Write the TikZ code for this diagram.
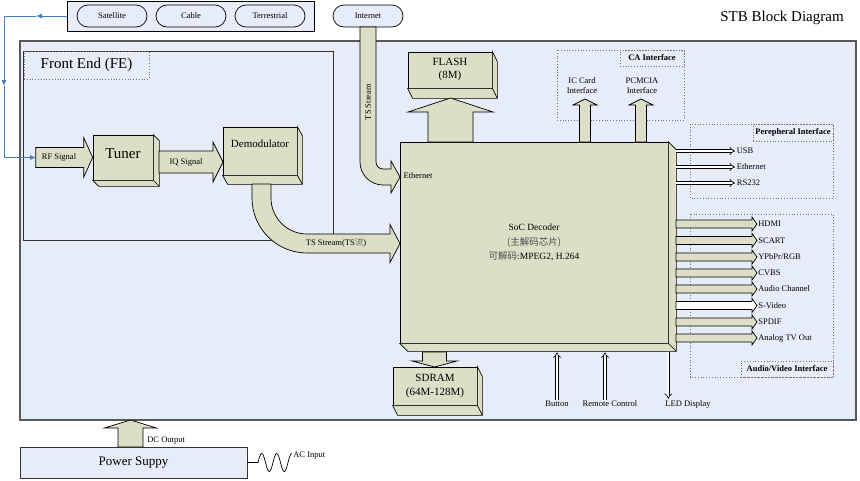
\documentclass[tikz,border=0pt]{standalone}
\usepackage{fontspec}
\setmainfont{Liberation Serif}
\newfontfamily\cjk{Noto Sans CJK SC}
\usepackage{tikz}
\usetikzlibrary{arrows.meta}

\definecolor{panel}{HTML}{E6ECF8}
\definecolor{olivebox}{HTML}{DCDFC6}
\definecolor{linkblue}{HTML}{4A7EBB}

% block arrow: [fill] tip, angle, length, half shaft, half head, head length
\newcommand{\blockarrow}[7][olivebox]{%
	\draw[fill=#1, shift={(#2)}, rotate=#3] (0,0) -- (-#7,#6) -- (-#7,#5) -- (-#4,#5)
		-- (-#4,-#5) -- (-#7,-#5) -- (-#7,-#6) -- cycle;}

\begin{document}
\begin{tikzpicture}
		[x=1pt, y=-1pt, line width=0.7pt,
		box/.style = {draw, fill=olivebox, inner sep=0pt, align=center},
		lbl/.style = {inner sep=1pt, font=\fontsize{8.5}{10}\selectfont},
		pill/.style = {lbl, draw, fill=panel, rounded corners=11pt, minimum width=70pt, minimum height=22pt},
		zone/.style = {draw=black!55, dotted, line width=0.8pt},
		ttl/.style = {zone, inner sep=1pt, font=\bfseries\fontsize{8.5}{10}\selectfont},
		hollow/.style = {double, double distance=2.2pt, line width=0.6pt, -{Implies}},
		link/.style = {draw=linkblue, line width=1pt},
		linktip/.style = {link, -{Latex[length=6pt, width=5pt]}}]
	\useasboundingbox (0,0) rectangle (860,480);

	% signal sources
	\node[draw, fill=panel, minimum width=247pt, minimum height=30pt] (src) at (190.5,16) {};
	\node[pill] (sat) at (112,16) {Satellite};
	\node[pill] (cable) at (191,16) {Cable};
	\node[pill] (terr) at (270,16) {Terrestrial};
	\node[font=\fontsize{15}{18}\selectfont] (title) at (782,18) {STB Block Diagram};

	% board
	\draw[fill=panel, draw=black!65, line width=1.2pt] (20,41) rectangle (856,420);
	\draw[fill=panel, draw=black!80] (23,51) rectangle (333,240);
	\node[zone, minimum width=125pt, minimum height=28pt, font=\fontsize{15}{18}\selectfont] (fe) at (86.5,65) {Front End (FE)};
	\node[pill] (net) at (368,16) {Internet};

	\draw[zone] (557,50) rectangle (684,120);
	\node[ttl, minimum width=64pt, minimum height=16pt] (ca) at (652,58) {CA Interface};
	\draw[zone] (690,124) rectangle (833,198);
	\node[ttl, minimum width=80pt, minimum height=17pt] (peri) at (793,132.5) {Perepheral Interface};
	\draw[zone] (690,214) rectangle (833,377);
	\node[ttl, minimum width=92pt, minimum height=16pt] (av) at (787,369) {Audio/Video Interface};

	% blocks
	\node[box, minimum width=60pt, text height=23pt, text depth=22pt, font=\fontsize{15}{18}\selectfont] (tuner) at (123,157.5) {Tuner};
	\node[box, minimum width=74pt, text height=20pt, text depth=28pt, font=\fontsize{11}{13}\selectfont] (demod) at (260,151) {Demodulator};
	\node[box, minimum width=84pt, minimum height=36pt, font=\fontsize{11}{13}\selectfont] (flash) at (450,70) {FLASH\\(8M)};
	\node[box, minimum width=268pt, minimum height=201pt, font=\fontsize{9.5}{14.5}\selectfont] (soc) at (534,242.5)
		{SoC Decoder\\{\cjk\color{black!70}(主解码芯片)}\\{\cjk\color{black!70}可解码}:MPEG2, H.264};
	\node[box, minimum width=84pt, minimum height=38pt, font=\fontsize{11}{14}\selectfont] (sdram) at (435,386) {SDRAM\\(64M-128M)};
	\foreach \n/\dx/\dy in {tuner/6/6, demod/5/9, flash/5/10, soc/8/8, sdram/5/10}{
		\draw[fill=olivebox] (\n.north east) -- ++(\dx,\dy) -- ([shift={(\dx,\dy)}]\n.south east)
			-- ([shift={(\dx,\dy)}]\n.south west) -- (\n.south west) -- (\n.south east) -- cycle;
		\draw (\n.south east) -- ++(\dx,\dy);
	}
	\coordinate (socbase) at ([yshift=-9pt]soc.south);
	\coordinate (socside) at ([xshift=8pt]soc.east);

	% block arrows
	\blockarrow{tuner.west}{0}{57}{10}{20}{9}
	\blockarrow{223,162}{0}{64}{11}{20}{10}
	\blockarrow{450.5,98}{90}{44}{22.5}{42.5}{14}
	\blockarrow{434.5,367}{-90}{15}{12}{22.5}{6}
	\blockarrow{585,99}{90}{43}{5.5}{12}{6}
	\blockarrow{641,99}{90}{43}{5.5}{12}{6}
	\blockarrow{130.5,420}{90}{27}{12.5}{26}{8}
	\draw[fill=olivebox] (252,184) -- (252,198) .. controls (252,228.4) and (276.6,253) .. (307,253)
		-- (390,253) -- (390,262.5) -- (400,243.5) -- (390,224.5) -- (390,234) -- (307,234)
		.. controls (287.1,234) and (271,217.9) .. (271,198) -- (271,184) -- cycle;
	\draw[fill=olivebox] (360,27) -- (360,162) .. controls (360,174.7) and (370.3,185) .. (383,185)
		-- (391,185) -- (391,193) -- (400,177) -- (391,161) -- (391,169) -- (383,169)
		.. controls (379.1,169) and (376,165.9) .. (376,162) -- (376,27) -- cycle;

	% labels
	\node[lbl] (rflbl) at (59,157.5) {RF Signal};
	\node[lbl] (iqlbl) at (186,162) {IQ Signal};
	\node[lbl] (tsfe) at (336,243) {TS Stream(TS{\cjk\color{black!60}流})};
	\node[lbl, rotate=90] (tsnet) at (368,102) {TS Stream};
	\node[lbl] (ethin) at (418,176) {Ethernet};
	\node[lbl, align=center] (icc) at (582,86) {IC Card\\Interface};
	\node[lbl, align=center] (pcm) at (642,86) {PCMCIA\\Interface};

	% outputs
	\node[lbl, anchor=west, inner sep=1.5pt] (usb) at (735,151) {USB};
	\node[lbl, anchor=west, inner sep=1.5pt] (eth) at (735,167) {Ethernet};
	\node[lbl, anchor=west, inner sep=1.5pt] (rs) at (735,183) {RS232};
	\foreach \p in {usb, eth, rs}
		\draw[hollow] (socside |- \p.west) -- (\p.west);
	\foreach \n/\txt/\y/\fc in {hdmi/HDMI/224/olivebox, scart/SCART/240.5/olivebox, ypbpr/{YPbPr/RGB}/257/olivebox,
			cvbs/CVBS/273/olivebox, audio/Audio Channel/289/olivebox, svideo/S-Video/305.5/white,
			spdif/SPDIF/322/olivebox, atv/Analog TV Out/338/olivebox}{
		\node[lbl, anchor=west] (\n) at (757,\y) {\txt};
		\blockarrow[\fc]{\n.west}{0}{81}{4}{7}{5}
	}

	% front panel
	\node[lbl] (btn) at (557,404) {Button};
	\node[lbl] (rc) at (610,404) {Remote Control};
	\node[lbl] (led) at (688,404) {LED Display};
	\path ([xshift=-5pt]rc.north) coordinate (rctop);
	\draw[hollow] (btn.north) -- (btn.north |- socbase);
	\draw[hollow] (rctop) -- (rctop |- socbase);
	\draw[hollow] (socbase -| soc.south east) -- (led.north -| soc.south east);

	% rf input
	\coordinate (rfin) at (36,157.5);
	\coordinate (bend1) at (4,16);
	\coordinate (bend2) at (4,157.5);
	\coordinate (half1) at (36,16);
	\coordinate (half2) at (4,86);
	\draw[linktip] (src.west) -- (half1);
	\draw[link] (half1) -- (bend1);
	\draw[linktip] (bend1) -- (half2);
	\draw[link] (half2) -- (bend2);
	\draw[linktip] (bend2) -- (rfin);

	% power
	\node[draw, fill=panel, draw=black!80, minimum width=227pt, minimum height=31pt, font=\fontsize{13}{15}\selectfont] (pwr) at (133.5,462.5) {Power Suppy};
	\node[lbl, anchor=west] (dclbl) at (146,441) {DC Output};
	\node[lbl, anchor=west] (aclbl) at (292,456) {AC Input};
	\draw (pwr.east) -- ++(11,0) -- plot[domain=0:2.25, samples=61] ({258+15*\x}, {462.5-9*sin(360*\x)});
\end{tikzpicture}
\end{document}
